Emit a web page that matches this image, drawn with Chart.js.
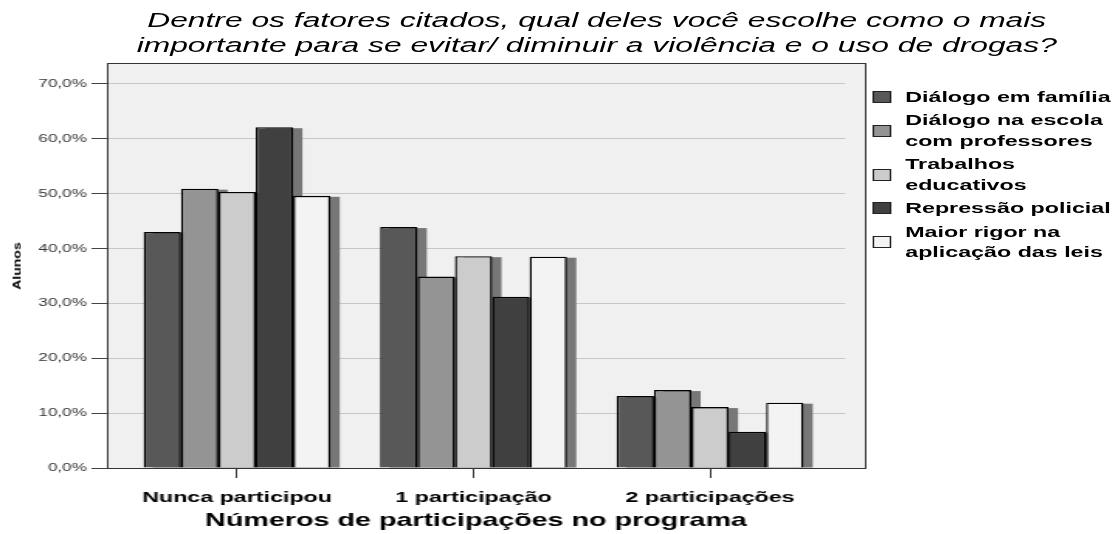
<!DOCTYPE html>
<html>
<head>
<meta charset="utf-8">
<script src="https://cdn.jsdelivr.net/npm/chart.js@4/dist/chart.umd.min.js"></script>
<style>
  html, body { margin: 0; padding: 0; background: #fff; overflow: hidden; }
  /* the whole figure is laid out at 720px and stretched to 1116px wide */
  #wrap {
    position: relative; width: 720px; height: 534px;
    transform: scaleX(1.55); transform-origin: 0 0;
    font-family: "Liberation Sans", Arial, sans-serif;
  }
  #chart { position: absolute; left: 0; top: 0; }
  #title {
    position: absolute; left: 385px; top: 7px; transform: translateX(-50%);
    font-style: italic; font-size: 20.5px; line-height: 25px;
    white-space: nowrap; text-align: center; color: #000;
  }
  #ytitle {
    position: absolute; left: 10.5px; top: 266px;
    font-weight: bold; font-size: 14px; white-space: nowrap;
    transform: translate(-50%, -50%) rotate(-90deg) scaleY(0.52);
  }
  #legend { position: absolute; left: 562.5px; top: 86.5px; }
  .item { position: relative; margin-bottom: 3px; padding-left: 21.5px;
          font-weight: bold; font-size: 15px; line-height: 20.5px; color: #000; white-space: nowrap; }
  .swatch { position: absolute; left: 0; top: 50%; width: 10px; height: 10px;
            margin-top: -6px; border: 1px solid #222; }
</style>
</head>
<body>
<div id="wrap">
  <canvas id="chart"></canvas>
  <div id="title">Dentre os fatores citados, qual deles você escolhe como o mais<br>importante para se evitar/ diminuir a violência e o uso de drogas?</div>
  <div id="ytitle">Alunos</div>
  <div id="legend"></div>
</div>
<script>
// participation groups on the x axis
const categories = ['Nunca participou', '1 participação', '2 participações'];

// percentage of students choosing each factor, per group
const familia    = [43.0, 43.9, 13.1];
const escola     = [50.9, 34.9, 14.2];
const trabalhos  = [50.3, 38.6, 11.1];
const repressao  = [62.1, 31.2, 6.6];
const rigor      = [49.6, 38.5, 11.9];

const seriesNames = [
  ['Diálogo em família'],
  ['Diálogo na escola', 'com professores'],
  ['Trabalhos', 'educativos'],
  ['Repressão policial'],
  ['Maior rigor na', 'aplicação das leis']
];
const seriesValues = [familia, escola, trabalhos, repressao, rigor];
const seriesColors = ['#585858', '#949494', '#cccccc', '#404040', '#f3f3f3'];

const yTicks = [0, 10, 20, 30, 40, 50, 60, 70];

const FRAME_RIGHT = 558; // plot frame goes a bit past the last gridline

// grey plot background, drawn before the grid
const frameBg = {
  id: 'frameBg',
  beforeDraw(chart) {
    const { ctx, chartArea: a } = chart;
    ctx.save();
    ctx.fillStyle = '#f0f0f0';
    ctx.fillRect(a.left, a.top, FRAME_RIGHT - a.left, a.bottom - a.top);
    ctx.restore();
  },
  afterDatasetsDraw(chart) {
    const { ctx, chartArea: a } = chart;
    ctx.save();
    ctx.strokeStyle = '#333';
    ctx.lineWidth = 1;
    ctx.strokeRect(a.left + 0.5, a.top + 0.5, FRAME_RIGHT - a.left, a.bottom - a.top);
    ctx.restore();
  }
};

// drop shadow to the right of each bar
const barShadow = {
  id: 'barShadow',
  beforeDatasetsDraw(chart) {
    const ctx = chart.ctx;
    ctx.save();
    ctx.fillStyle = '#777';
    chart.data.datasets.forEach((ds, i) => {
      chart.getDatasetMeta(i).data.forEach(el => {
        const p = el.getProps(['x', 'y', 'base', 'width'], true);
        ctx.fillRect(p.x - p.width / 2 + 6, p.y + 1, p.width, p.base - p.y - 1);
      });
    });
    ctx.restore();
  }
};

const datasets = seriesValues.map((vals, i) => ({
  label: seriesNames[i].join(' '),
  data: vals.map((v, j) => ({ x: j, y: v })),
  backgroundColor: seriesColors[i],
  borderColor: '#000',
  borderWidth: 1.4,
  categoryPercentage: 0.79,
  barPercentage: 1
}));

new Chart(document.getElementById('chart'), {
  type: 'bar',
  data: { datasets },
  options: {
    responsive: true,
    maintainAspectRatio: false,
    animation: false,
    layout: { padding: { left: 0, right: 174.8, top: 63, bottom: 0 } },
    plugins: { legend: { display: false }, tooltip: { enabled: false }, title: { display: false } },
    scales: {
      x: {
        type: 'linear',
        offset: false,
        min: -0.55,
        max: 2.571,
        afterBuildTicks(scale) { scale.ticks = categories.map((c, i) => ({ value: i })); },
        afterFit(scale) { scale.height = 66; },
        border: { display: false },
        grid: { offset: false, drawOnChartArea: false, drawTicks: true, tickLength: 10, tickColor: '#333' },
        ticks: {
          padding: 11,
          color: '#000',
          font: { family: 'Liberation Sans', size: 15, weight: 'bold' },
          callback: v => categories[v]
        },
        title: {
          display: true,
          text: 'Números de participações no programa',
          color: '#000',
          font: { family: 'Liberation Sans', size: 18.5, weight: 'bold' },
          padding: { top: 0, bottom: 1.5 }
        }
      },
      y: {
        min: 0,
        max: 73.8,
        afterBuildTicks(scale) { scale.ticks = yTicks.map(v => ({ value: v })); },
        afterFit(scale) { scale.width = 69; },
        border: { display: false },
        grid: { color: '#c6c6c6', lineWidth: 1, tickLength: 10, tickColor: '#444' },
        ticks: {
          padding: 3,
          color: '#333',
          font: { family: 'Liberation Sans', size: 11 },
          callback: v => v.toFixed(1).replace('.', ',') + '%'
        }
      }
    }
  },
  plugins: [frameBg, barShadow]
});

// legend on the right, one entry per factor
const legend = document.getElementById('legend');
seriesNames.forEach((lines, i) => {
  const item = document.createElement('div');
  item.className = 'item';
  const sw = document.createElement('span');
  sw.className = 'swatch';
  sw.style.background = seriesColors[i];
  item.appendChild(sw);
  lines.forEach((t, k) => {
    if (k) item.appendChild(document.createElement('br'));
    item.appendChild(document.createTextNode(t));
  });
  legend.appendChild(item);
});
</script>
</body>
</html>
